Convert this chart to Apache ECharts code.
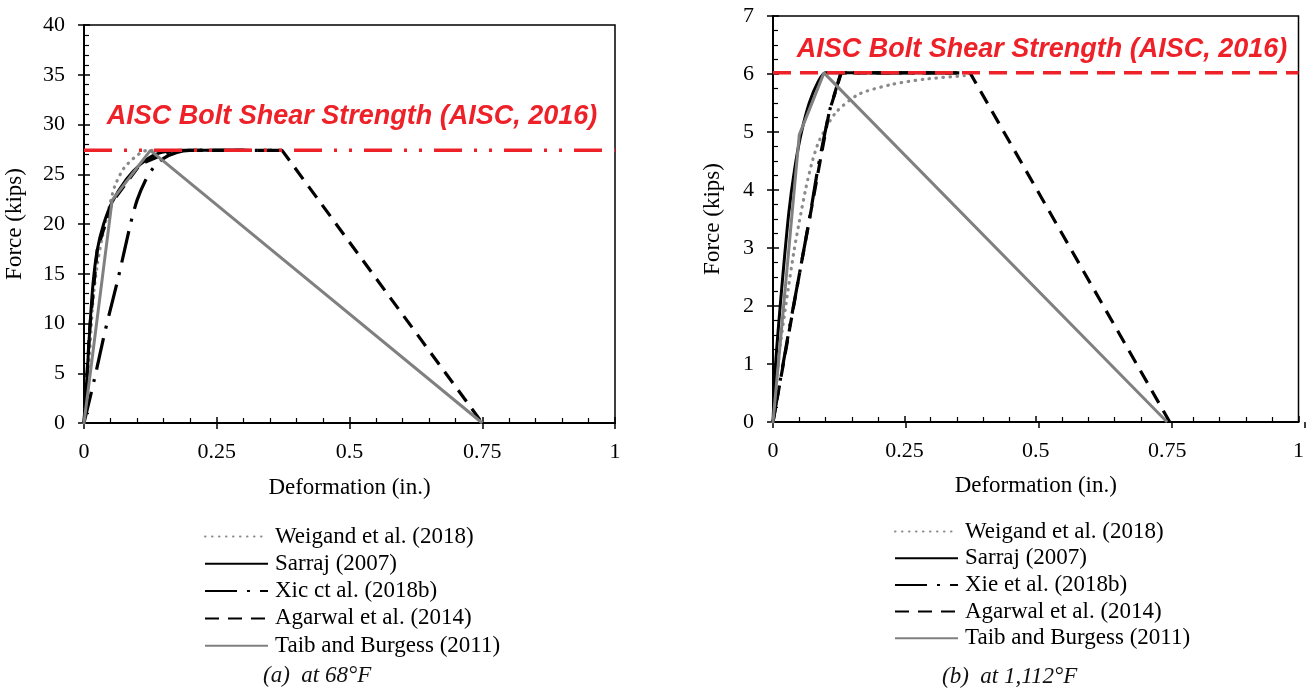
<!DOCTYPE html>
<html lang="en">
<head>
    <meta charset="utf-8">
    <script src="https://cdn.jsdelivr.net/npm/echarts@6/dist/echarts.min.js"></script>
    <style>
        html, body {
            margin: 0;
            padding: 0;
            background: #fff;
        }
        #bolt_map {
            width: 1307px;
            height: 688px;
        }
    </style>
</head>
<body>
<div id="bolt_map"></div>

<script>
    // axis ticks
    var xTicks = [0, 0.25, 0.5, 0.75, 1];
    var yTicksA = [0, 5, 10, 15, 20, 25, 30, 35, 40];
    var yTicksB = [0, 1, 2, 3, 4, 5, 6, 7];

    // legend names (left chart keeps the "Xic ct al." spelling of the original)
    var namesA = ['Weigand et al. (2018)', 'Sarraj (2007)', 'Xic ct al. (2018b)', 'Agarwal et al. (2014)', 'Taib and Burgess (2011)'];
    var namesB = ['Weigand et al. (2018)', 'Sarraj (2007)', 'Xie et al. (2018b)', 'Agarwal et al. (2014)', 'Taib and Burgess (2011)'];

    // (a) at 68°F  [deformation in., force kips]
    var weigandA = [[0, 0], [0.009, 5.7], [0.017, 12.4], [0.025, 15.9], [0.034, 18.6], [0.047, 21.6], [0.058, 23.8], [0.075, 25.6], [0.1, 26.9], [0.119, 27.4], [0.37, 27.4]];
    var sarrajA = [[0, 0], [0.003, 2.5], [0.006, 5.0], [0.011, 9.6], [0.017, 14.0], [0.025, 17.4], [0.037, 20.0], [0.053, 22.2], [0.08, 24.5], [0.106, 26.0], [0.135, 27.0], [0.165, 27.35], [0.19, 27.4], [0.3, 27.4]];
    var xieA = [[0, 0], [0.02, 4.5], [0.04, 9.3], [0.065, 14.7], [0.088, 20.1], [0.1, 22.4], [0.115, 24.3], [0.13, 25.6], [0.15, 26.6], [0.175, 27.2], [0.2, 27.4], [0.37, 27.4]];
    var agarwalA = [[0, 0], [0.011, 9.6], [0.025, 17.4], [0.053, 22.2], [0.106, 26.0], [0.165, 27.35], [0.2, 27.4], [0.373, 27.4], [0.75, 0]];
    var taibA = [[0, 0], [0.053, 22.4], [0.125, 27.4], [0.75, 0]];
    var aiscA = 27.4;

    // (b) at 1,112°F
    var weigandB = [[0, 0], [0.006, 0.6], [0.0126, 1.24], [0.025, 2.05], [0.04, 2.95], [0.05, 3.45], [0.063, 4.05], [0.075, 4.5], [0.088, 4.85], [0.119, 5.33], [0.163, 5.65], [0.226, 5.82], [0.288, 5.91], [0.364, 5.97]];
    var sarrajB = [[0, 0], [0.005, 1.0], [0.01, 1.6], [0.018, 2.45], [0.03, 3.6], [0.041, 4.35], [0.053, 4.95], [0.069, 5.5], [0.085, 5.85], [0.1, 6.02], [0.3, 6.02]];
    var xieB = [[0, 0], [0.0126, 0.66], [0.031, 1.61], [0.05, 2.54], [0.069, 3.48], [0.086, 4.41], [0.107, 5.35], [0.129, 6.02], [0.37, 6.02]];
    var agarwalB = [[0, 0], [0.05, 2.54], [0.107, 5.35], [0.13, 6.02], [0.375, 6.02], [0.755, 0]];
    var taibB = [[0, 0], [0.05, 4.95], [0.097, 6.02], [0.75, 0]];
    var aiscB = 6.02;

    var serif = '"Liberation Serif", "Times New Roman", serif';
    var red = '#ee2128';

    function mainX(grid, gap) {
        return {
            type: 'value', gridIndex: grid,
            min: xTicks[0], max: xTicks[xTicks.length - 1], interval: xTicks[1] - xTicks[0],
            name: 'Deformation (in.)', nameLocation: 'middle', nameGap: gap,
            nameTextStyle: {fontFamily: serif, fontSize: 23, color: '#000'},
            axisLine: {lineStyle: {color: '#000', width: 2}},
            axisTick: {inside: true, length: 6, lineStyle: {color: '#000', width: 1.5}},
            minorTick: {show: true, splitNumber: 5, length: 5, lineStyle: {color: '#000', width: 1.2}},
            splitLine: {show: false},
            axisLabel: {margin: 18, fontFamily: serif, fontSize: 22, color: '#000'}
        };
    }

    function mainY(grid, ticks, split, gap) {
        return {
            type: 'value', gridIndex: grid,
            min: ticks[0], max: ticks[ticks.length - 1], interval: ticks[1] - ticks[0],
            name: 'Force (kips)', nameLocation: 'middle', nameGap: gap,
            nameTextStyle: {fontFamily: serif, fontSize: 23, color: '#000'},
            axisLine: {lineStyle: {color: '#000', width: 2}},
            axisTick: {inside: true, length: 6, lineStyle: {color: '#000', width: 1.5}},
            minorTick: {show: true, splitNumber: split, length: 5, lineStyle: {color: '#000', width: 1.2}},
            splitLine: {show: false},
            axisLabel: {margin: 19, fontFamily: serif, fontSize: 22, color: '#000'}
        };
    }

    // second copy of an axis that only draws the outer half of the major ticks
    function outerTicks(grid, ticks) {
        return {
            type: 'value', gridIndex: grid,
            min: ticks[0], max: ticks[ticks.length - 1], interval: ticks[1] - ticks[0],
            axisLine: {show: false},
            axisTick: {show: true, inside: false, length: 6, lineStyle: {color: '#000', width: 1.5}},
            axisLabel: {show: false},
            splitLine: {show: false}
        };
    }

    function curve(name, data, xi, style, smooth) {
        return {
            name: name, type: 'line', data: data,
            xAxisIndex: xi, yAxisIndex: xi,
            symbol: 'none', smooth: smooth ? 0.25 : false,
            silent: true,
            itemStyle: {color: style.color},
            lineStyle: style
        };
    }

    function legendFor(names, left, top, gap) {
        return {
            data: names, orient: 'vertical', left: left, top: top,
            itemWidth: 63, itemHeight: 14, itemGap: gap, selectedMode: false,
            itemStyle: {opacity: 0},
            textStyle: {fontFamily: serif, fontSize: 23, lineHeight: 23, color: '#000', padding: [0, 0, 0, 2]}
        };
    }

    var sWeigand = {color: '#8a8a8a', width: 3.2, type: [0.5, 6.5], cap: 'round'};
    var sSarraj = {color: '#000', width: 3};
    var sXie = {color: '#000', width: 3.2, type: [32, 10, 3, 10]};
    var sAgarwal = {color: '#000', width: 3.2, type: [14, 9]};
    var sTaib = {color: '#808080', width: 3};

    var option = {
        animation: false,
        grid: [
            {left: 84, top: 25, width: 531, height: 398, show: true, borderColor: '#000', borderWidth: 1.5},
            {left: 84, top: 25, width: 531, height: 398},
            {left: 773, top: 16, width: 532, height: 406, show: true, borderColor: '#000', borderWidth: 1.5},
            {left: 773, top: 16, width: 532, height: 406}
        ],
        xAxis: [mainX(0, 53), outerTicks(1, xTicks), mainX(2, 52), outerTicks(3, xTicks)],
        yAxis: [mainY(0, yTicksA, 5, 58), outerTicks(1, yTicksA), mainY(2, yTicksB, 4, 49), outerTicks(3, yTicksB)],
        legend: [
            legendFor(namesA, 199, 520, 4.3),
            legendFor(namesB, 889, 515, 3.7)
        ],
        graphic: [
            {type: 'text', x: 352, y: 117, silent: true,
                style: {text: 'AISC Bolt Shear Strength (AISC, 2016)', font: 'italic bold 27px "Liberation Sans", Arial, sans-serif', fill: red, align: 'center', verticalAlign: 'middle'}},
            {type: 'text', x: 1042, y: 50, silent: true,
                style: {text: 'AISC Bolt Shear Strength (AISC, 2016)', font: 'italic bold 27px "Liberation Sans", Arial, sans-serif', fill: red, align: 'center', verticalAlign: 'middle'}},
            {type: 'text', x: 263, y: 676, silent: true,
                style: {text: '(a)  at 68°F', font: 'italic 23px "Liberation Serif", serif', fill: '#111', verticalAlign: 'middle'}},
            {type: 'text', x: 942, y: 677, silent: true,
                style: {text: '(b)  at 1,112°F', font: 'italic 23px "Liberation Serif", serif', fill: '#111', verticalAlign: 'middle'}}
        ],
        series: [
            curve(namesA[0], weigandA, 0, sWeigand, true),
            curve(namesA[1], sarrajA, 0, sSarraj, true),
            curve(namesA[2], xieA, 0, sXie, true),
            curve(namesA[3], agarwalA, 0, sAgarwal, false),
            curve(namesA[4], taibA, 0, sTaib, false),
            curve('AISC A', [[xTicks[0], aiscA], [xTicks[xTicks.length - 1], aiscA]], 0,
                {color: red, width: 3.5, type: [28, 12, 3, 12, 3, 12]}, false),

            curve(namesB[0], weigandB, 2, sWeigand, true),
            curve(namesB[1], sarrajB, 2, sSarraj, true),
            curve(namesB[2], xieB, 2, sXie, false),
            curve(namesB[3], agarwalB, 2, sAgarwal, false),
            curve(namesB[4], taibB, 2, sTaib, false),
            curve('AISC B', [[xTicks[0], aiscB], [xTicks[xTicks.length - 1], aiscB]], 2,
                {color: red, width: 3.5, type: [18, 9]}, false)
        ]
    };

    var myChart = echarts.init(document.getElementById('bolt_map'));
    myChart.setOption(option);
</script>
</body>
</html>
